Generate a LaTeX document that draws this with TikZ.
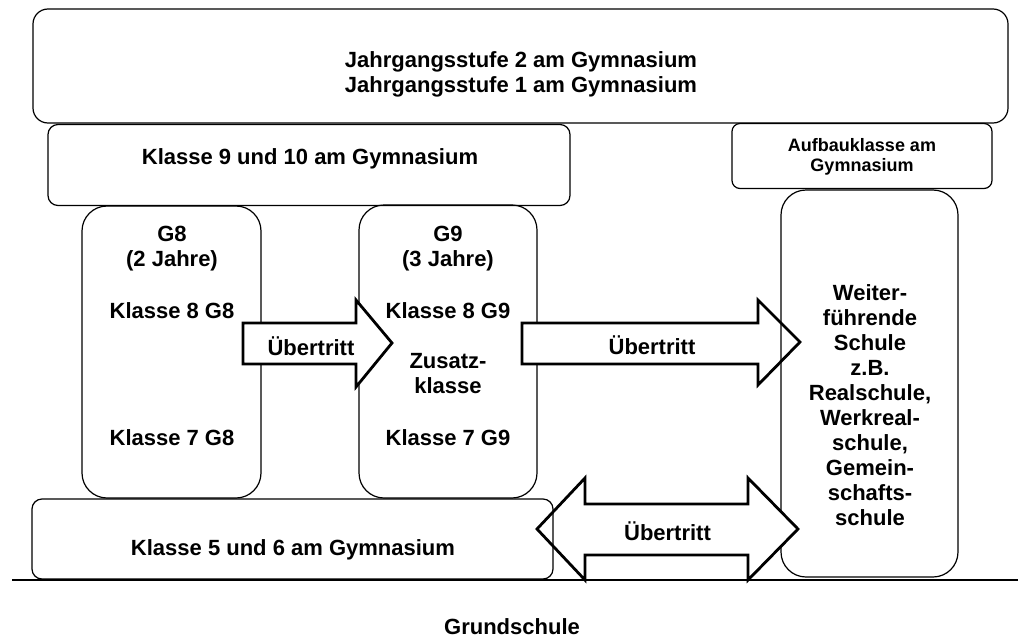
\documentclass[tikz,border=0pt]{standalone}
\usepackage{fontspec}
\setmainfont{Liberation Sans}
\begin{document}
\begin{tikzpicture}[x=1pt,y=-1pt,
  box/.style={draw, line width=1.2pt, inner sep=0pt},
  txt/.style={font=\fontsize{22}{25}\selectfont\bfseries, align=center, inner sep=0pt},
  smalltxt/.style={font=\fontsize{18}{20}\selectfont\bfseries, align=center, inner sep=0pt},
  blockarrow/.style={draw, fill=white, line width=2.8pt, line join=miter}]
\useasboundingbox (0,0) rectangle (1018,637);
\fill[white] (0,0) rectangle (1018,637);

% boxes
\node[box, rounded corners=15pt, minimum width=975pt, minimum height=114pt] (top) at (520.5,66) {};
\node[box, rounded corners=10pt, minimum width=522pt, minimum height=81pt] (k910) at (309,165) {};
\node[box, rounded corners=8pt, minimum width=260pt, minimum height=65pt] (aufbau) at (862,156) {};
\node[box, rounded corners=25pt, minimum width=179pt, minimum height=292pt] (g8) at (171.5,352) {};
\node[box, rounded corners=25pt, minimum width=178pt, minimum height=293pt] (g9) at (448,351.5) {};

% arrows
\draw[blockarrow] (243,323) -- (356,323) -- (356,300) -- (392,343) -- (356,387) -- (356,364) -- (243,364) -- cycle;
\draw[blockarrow] (522,323) -- (758,323) -- (758,300) -- (800,342) -- (758,385) -- (758,364) -- (522,364) -- cycle;

\node[box, rounded corners=25pt, minimum width=177pt, minimum height=387pt] (weiter) at (869.5,383.5) {};

\draw[blockarrow] (537,529) -- (585,478) -- (585,504) -- (748,504) -- (748,478) -- (798,529) -- (748,580) -- (748,555) -- (585,555) -- (585,580) -- cycle;

\node[box, rounded corners=10pt, minimum width=521pt, minimum height=80pt] (k56) at (292.5,539) {};

% ground line
\coordinate (gl) at (12,580);
\coordinate (gr) at (1018,580);
\draw[line width=1.2pt] (gl) -- (gr);

% texts
\node[txt] (ttop) at (521,74) {Jahrgangsstufe 2 am Gymnasium\\Jahrgangsstufe 1 am Gymnasium};
\node[txt] (tk910) at (310,158.5) {Klasse 9 und 10 am Gymnasium};
\node[smalltxt] (taufbau) at (862,157) {Aufbauklasse am\\Gymnasium};
\node[txt] (tg8) at (172,248.5) {G8\\(2 Jahre)};
\node[txt] (tg8a) at (172,311) {Klasse 8 G8};
\node[txt] (tg8b) at (172,437.5) {Klasse 7 G8};
\node[txt] (tg9) at (448,248.5) {G9\\(3 Jahre)};
\node[txt] (tg9a) at (448,311) {Klasse 8 G9};
\node[txt] (tg9z) at (448,374) {Zusatz-\\klasse};
\node[txt] (tg9b) at (448,437.5) {Klasse 7 G9};
\node[txt] (tweiter) at (870,405) {Weiter-\\führende\\Schule\\z.B.\\Realschule,\\Werkreal-\\schule,\\Gemein-\\schafts-\\schule};
\node[txt] (tk56) at (293,549.5) {Klasse 5 und 6 am Gymnasium};
\node[txt] (ua) at (311,346) {Übertritt};
\node[txt] (ub) at (652,345) {Übertritt};
\node[txt] (uc) at (667.5,531.5) {Übertritt};
\node[txt] (tgs) at (512,626.5) {Grundschule};
\end{tikzpicture}
\end{document}
